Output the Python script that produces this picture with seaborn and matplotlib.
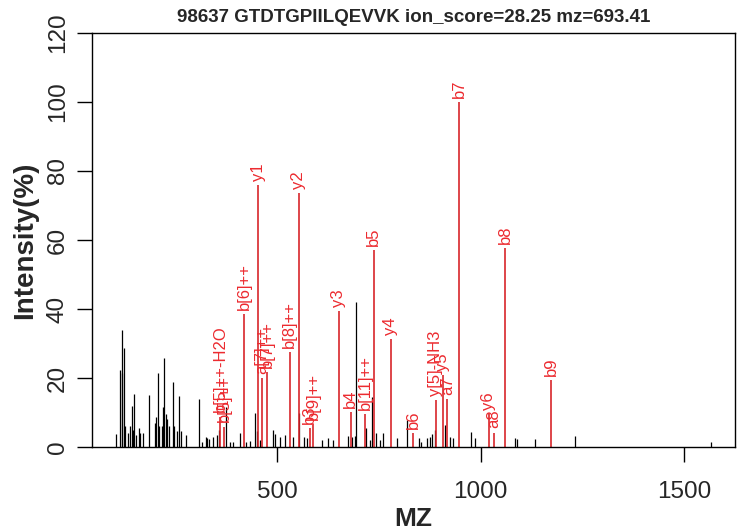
import matplotlib
matplotlib.use('Agg')
import matplotlib.pyplot as plt
import seaborn as sns
import numpy as np

# --- Data ---
TITLE = '98637 GTDTGPIILQEVVK ion_score=28.25 mz=693.41'

# unmatched peaks (black)
peak_mz = [103, 114.5, 117.7, 119.4, 121.9, 125, 132.4, 137.4, 142.3, 145.5,
           148.9, 152.1, 160.2, 163.6, 170, 184.8, 200.5, 203, 206.1, 209.3,
           216, 220.1, 222.6, 226.5, 230, 233.2, 243.7, 247.2, 253.6, 259.5,
           264.4, 276.7, 306.9, 314.3, 325.8, 327.3, 332.2, 342, 351.8, 356,
           373.2, 384.8, 391.2, 407.6, 424, 433.9, 446.2, 450.1, 456.8, 488.7,
           493.6, 505.9, 518.2, 538.6, 553.3, 564.9, 573, 609, 623.5, 636,
           673.7, 683.5, 690.2, 694.3, 718.9, 728.7, 732.6, 743.5, 753.3, 760.7,
           794.1, 819.7, 847.4, 854, 867.8, 874.5, 881, 888.5, 911.3, 923.6,
           931.7, 975.2, 985, 1083.3, 1089.9, 1132.4, 1232.4, 1566.6]
peak_int = [3.8, 22.3, 21.4, 33.9, 28.7, 6, 4, 6, 11.9, 5,
            15.4, 3.5, 5.5, 4, 4, 15, 7, 8.8, 21.5, 6,
            6, 11.7, 25.9, 9.5, 8, 6, 18.9, 6, 4.5, 14.7,
            4.5, 3.5, 14, 1.5, 3, 2.5, 2.2, 3, 3.5, 5,
            11.7, 1.5, 1.5, 4, 1.5, 1.8, 10, 4.5, 2, 4.8,
            3.7, 3, 3.5, 3, 10, 3, 2.5, 2, 2.5, 2,
            3.3, 3, 3.3, 42.1, 5.5, 2, 14.6, 4, 2, 4,
            2.7, 7.8, 2.5, 1.5, 2.5, 3, 3.7, 5, 6.5, 3,
            2.5, 4.3, 2.5, 2.7, 2.2, 2.2, 3.3, 1.4]

# matched fragment ions (red)
ion_labels = ['b[5]++-H2O', 'b[5]++', 'b[6]++', 'y1', 'a[7]++', 'b[7]++',
              'b[8]++', 'y2', 'b3', 'b[9]++', 'y3', 'b4', 'b[11]++', 'b5',
              'y4', 'b6', 'y[5]-NH3', 'y5', 'a7', 'b7', 'y6', 'a8', 'b8', 'b9']
ion_mz = [360.2, 370.0, 418.2, 452.6, 461.7, 474.7, 530.5, 552.6, 579.6,
          587.7, 650.9, 680.3, 716.5, 736.9, 778.6, 833.4, 889.9, 907.1,
          917.9, 947.4, 1019.4, 1032.4, 1060.4, 1173.5]
ion_int = [8.8, 5.9, 38.5, 76.0, 19.9, 21.6, 27.4, 73.5, 5.5, 6.5, 39.4,
           10.2, 9.5, 57.0, 31.3, 4.0, 13.6, 20.9, 13.8, 100.0, 9.6, 4.2,
           57.6, 19.4]

X_TICKS = [500, 1000, 1500]
Y_TICKS = [0, 20, 40, 60, 80, 100, 120]

RED_LINE = '#d8262b'
RED_TEXT = '#ec2a2f'

sns.set_style('ticks')
plt.rcParams['font.family'] = ['Liberation Sans', 'DejaVu Sans']

fig = plt.figure(figsize=(7.45, 5.30), dpi=100)
ax = fig.add_axes([92 / 745, 83 / 530, 643 / 745, 414 / 530])

ax.vlines(peak_mz, 0, peak_int, color='black', lw=0.9)
ax.vlines(ion_mz, 0, ion_int, color=RED_LINE, lw=1.2)
for lab, x, y in zip(ion_labels, ion_mz, ion_int):
    ax.annotate(lab, (x, y), xytext=(0, 3), textcoords='offset points',
                rotation=90, ha='center', va='bottom', color=RED_TEXT,
                fontsize=12)

# R-like 4% padding on x, exact 0-120 on y
all_mz = np.array(peak_mz + ion_mz)
span = all_mz.max() - all_mz.min()
ax.set_xlim(all_mz.min() - 0.04 * span, all_mz.max() + 0.04 * span)
ax.set_ylim(0, 120)
ax.set_xticks(X_TICKS)
ax.set_yticks(Y_TICKS)
ax.tick_params(axis='both', direction='out', length=10.8, width=1.0,
               labelsize=17.5, color='black')
ax.tick_params(axis='x', pad=13.5)
ax.tick_params(axis='y', pad=6)
for t in ax.get_yticklabels():
    t.set_rotation(90)
    t.set_va('center')

for s in ax.spines.values():
    s.set_visible(True)
    s.set_color('black')
    s.set_linewidth(1.0)

ax.set_xlabel('MZ', fontsize=19, fontweight='bold', labelpad=3)
ax.set_ylabel('Intensity(%)', fontsize=20, fontweight='bold', labelpad=6)
ax.set_title(TITLE, fontsize=13.5, fontweight='bold', pad=8)

fig.savefig('out.png', dpi=100)
